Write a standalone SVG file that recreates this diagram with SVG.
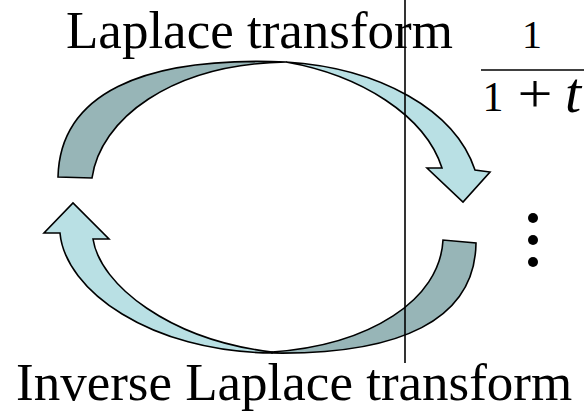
<svg xmlns="http://www.w3.org/2000/svg" width="584" height="412" viewBox="0 0 584 412">
<style>
.lbl{font-family:"Liberation Serif","Times New Roman",serif;font-size:53px;fill:#000}
.math{font-family:"Liberation Serif","Times New Roman",serif;fill:#000}
.dark{fill:#97B5B7;stroke:#000;stroke-width:1.6;stroke-linejoin:miter}
.light{fill:#B9E0E4;stroke:#000;stroke-width:1.6;stroke-linejoin:miter}
</style>
<rect width="584" height="412" fill="#fff"/>
<g id="connectors">
<g id="laplace-arrow">
<path class="dark" d="M58,177 C60,95 140,56 286,62 C170,64 100,120 92,178 Z"/>
<path class="light" d="M286,62 C380,68 455,110 475,170 L490,172 L463,202 L427,168 L442,168 C425,115 360,75 286,62 Z"/>
</g>
<g id="inverse-arrow">
<path class="dark" d="M272,353 C400,355 475,320 476,243 L443,240 C440,300 370,345 272,352 Z"/>
<path class="light" d="M272,353 C150,352 65,290 60,233 L44,233 L73,203 L109,239 L93,239 C100,285 170,340 272,352 Z"/>
</g>
</g>
<g id="divider">
<line x1="405" y1="0" x2="405" y2="363" stroke="#000" stroke-width="1.6"/>
</g>
<g id="label-top">
<text class="lbl" x="66" y="48">Laplace transform</text>
</g>
<g id="label-bottom">
<text class="lbl" x="16" y="400">Inverse Laplace transform</text>
</g>
<g id="fraction">
<text class="math" x="532" y="48" text-anchor="middle" style="font-size:40px">1</text>
<line x1="481" y1="70" x2="584" y2="70" stroke="#000" stroke-width="1.6"/>
<text class="math" x="493" y="111" text-anchor="middle" style="font-size:42px">1</text>
<text class="math" transform="translate(535,112) scale(1.15,1)" text-anchor="middle" style="font-size:54px">+</text>
<text class="math" x="573" y="112" text-anchor="middle" style="font-size:58px;font-style:italic">t</text>
</g>
<g id="vdots">
<circle cx="533" cy="218" r="5"/>
<circle cx="533" cy="240" r="5"/>
<circle cx="533" cy="262" r="5"/>
</g>
</svg>
